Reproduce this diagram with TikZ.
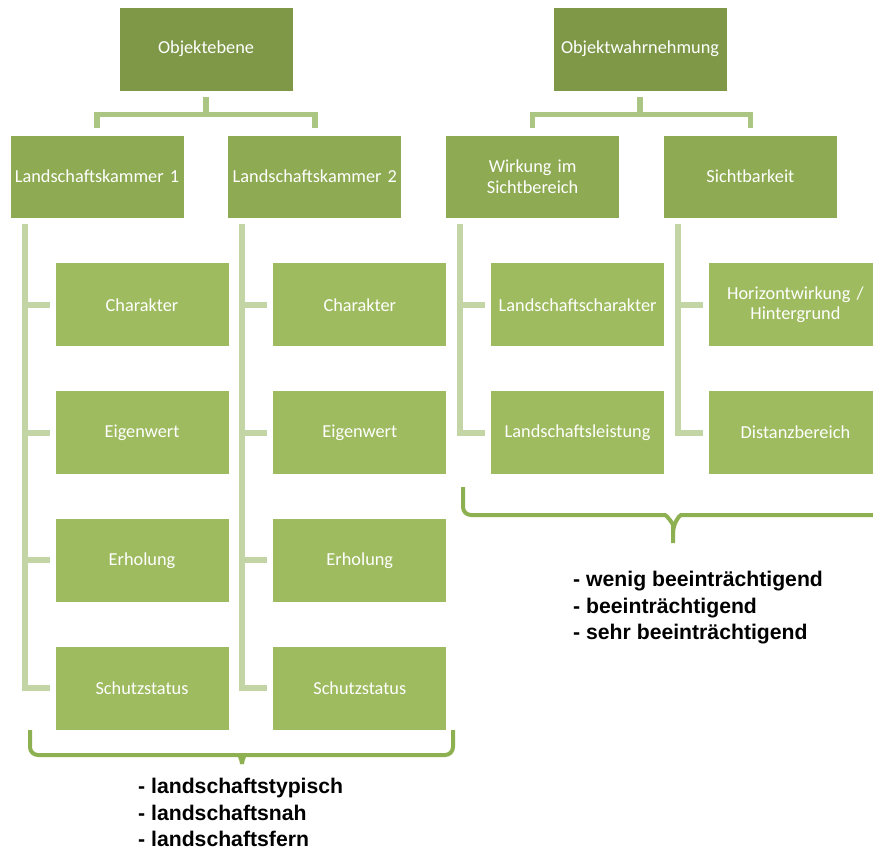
\documentclass[tikz,border=0pt]{standalone}
\usepackage{fontspec}
\setmainfont{Carlito}
\newfontfamily\listfont{Liberation Sans}
\usepackage{tikz}
\usetikzlibrary{positioning}
\definecolor{topgreen}{HTML}{7E9848}
\definecolor{midgreen}{HTML}{8EAA52}
\definecolor{leafgreen}{HTML}{9EBB5F}
\definecolor{linkgreen}{HTML}{ABC682}
\definecolor{stemgreen}{HTML}{C3D5A5}
\definecolor{bracegreen}{HTML}{8DB050}

\tikzset{
  box/.style={fill=#1, draw=white, line width=0.8pt, minimum width=174pt,
    minimum height=84pt, inner sep=2pt, text width=170pt, align=center,
    text=white, font=\fontsize{18.3}{20.5}\selectfont},
  topbox/.style={box=topgreen},
  midbox/.style={box=midgreen, minimum height=83pt},
  leafbox/.style={box=leafgreen},
  link/.style={draw=linkgreen, line width=5.5pt},
  stem/.style={draw=stemgreen, line width=6pt},
  brace/.style={draw=bracegreen, line width=4pt, rounded corners=8pt},
  choice/.style={font=\listfont\bfseries\fontsize{21.2}{26.5}\selectfont,
    align=left, inner sep=0pt, anchor=north west}
}

\begin{document}
\begin{tikzpicture}[x=1pt, y=-1pt]
  \useasboundingbox (0,0) rectangle (873,852);
  \clip (0,0) rectangle (873,852);

  % top level
  \node[topbox] (obj) at (206,49) {Objektebene};
  \node[topbox] (wahr) at (640,49) {Objektwahrnehmung};

  % second level
  \node[midbox] (lk1) at (97,176.5) {Landschaftskammer 1};
  \node[midbox, right=43pt of lk1] (lk2) {Landschaftskammer 2};
  \node[midbox, right=43pt of lk2] (wirk) {Wirkung im\\Sichtbereich};
  \node[midbox, right=43pt of wirk] (sicht) {Sichtbarkeit};

  % leaves
  \node[leafbox, anchor=north west] (lk1a) at ([xshift=45pt,yshift=-44pt]lk1.south west) {Charakter};
  \node[leafbox, below=43pt of lk1a] (lk1b) {Eigenwert};
  \node[leafbox, below=43pt of lk1b] (lk1c) {Erholung};
  \node[leafbox, below=43pt of lk1c] (lk1d) {Schutzstatus};

  \node[leafbox, anchor=north west] (lk2a) at ([xshift=45pt,yshift=-44pt]lk2.south west) {Charakter};
  \node[leafbox, below=43pt of lk2a] (lk2b) {Eigenwert};
  \node[leafbox, below=43pt of lk2b] (lk2c) {Erholung};
  \node[leafbox, below=43pt of lk2c] (lk2d) {Schutzstatus};

  \node[leafbox, anchor=north west] (wirka) at ([xshift=45pt,yshift=-44pt]wirk.south west) {Landschaftscharakter};
  \node[leafbox, below=43pt of wirka] (wirkb) {Landschaftsleistung};

  \node[leafbox, anchor=north west] (sichta) at ([xshift=45pt,yshift=-44pt]sicht.south west) {Horizontwirkung /\\Hintergrund};
  \node[leafbox, below=43pt of sichta] (sichtb) {Distanzbereich};

  % links top -> second level
  \draw[link] ([yshift=-6pt]obj.south) -- ([yshift=-23pt]obj.south);
  \draw[link] ([yshift=7pt]lk1.north) |- ([yshift=-23pt]obj.south) -| ([yshift=7pt]lk2.north);
  \draw[link] ([yshift=-6pt]wahr.south) -- ([yshift=-23pt]wahr.south);
  \draw[link] ([yshift=7pt]wirk.north) |- ([yshift=-23pt]wahr.south) -| ([yshift=7pt]sicht.north);

  % stems second level -> leaves
  \coordinate (s1) at ([xshift=15pt,yshift=-6pt]lk1.south west);
  \coordinate (s2) at ([xshift=15pt,yshift=-6pt]lk2.south west);
  \coordinate (s3) at ([xshift=15pt,yshift=-6pt]wirk.south west);
  \coordinate (s4) at ([xshift=15pt,yshift=-6pt]sicht.south west);

  \draw[stem] (s1) |- ([xshift=-5pt]lk1d.west);
  \draw[stem] ([xshift=-5pt]lk1a.west) -- (lk1a -| s1);
  \draw[stem] ([xshift=-5pt]lk1b.west) -- (lk1b -| s1);
  \draw[stem] ([xshift=-5pt]lk1c.west) -- (lk1c -| s1);

  \draw[stem] (s2) |- ([xshift=-5pt]lk2d.west);
  \draw[stem] ([xshift=-5pt]lk2a.west) -- (lk2a -| s2);
  \draw[stem] ([xshift=-5pt]lk2b.west) -- (lk2b -| s2);
  \draw[stem] ([xshift=-5pt]lk2c.west) -- (lk2c -| s2);

  \draw[stem] (s3) |- ([xshift=-5pt]wirkb.west);
  \draw[stem] ([xshift=-5pt]wirka.west) -- (wirka -| s3);

  \draw[stem] (s4) |- ([xshift=-5pt]sichtb.west);
  \draw[stem] ([xshift=-5pt]sichta.west) -- (sichta -| s4);

  % braces
  \coordinate (ltip) at (242,764);
  \coordinate (rtip) at (673,543);
  \draw[brace] (30,730) -- (30,755) -- (233,755) to[out=0,in=90] (ltip);
  \draw[brace] (453,730) -- (453,755) -- (251,755) to[out=180,in=90] (ltip);
  \draw[brace] (463,487) -- (463,515) -- (657,515) to[out=0,in=90] (673,533) -- (rtip);
  \draw[brace] (883,487) -- (883,515) -- (689,515) to[out=180,in=90] (673,533);

  % ratings
  \node[choice] (lchoice) at ([xshift=-104pt,yshift=-14pt]ltip)
    {- landschaftstypisch\\- landschaftsnah\\- landschaftsfern};
  \node[choice] (rchoice) at ([xshift=-100pt,yshift=-28pt]rtip)
    {- wenig beeinträchtigend\\- beeinträchtigend\\- sehr beeinträchtigend};
\end{tikzpicture}
\end{document}
